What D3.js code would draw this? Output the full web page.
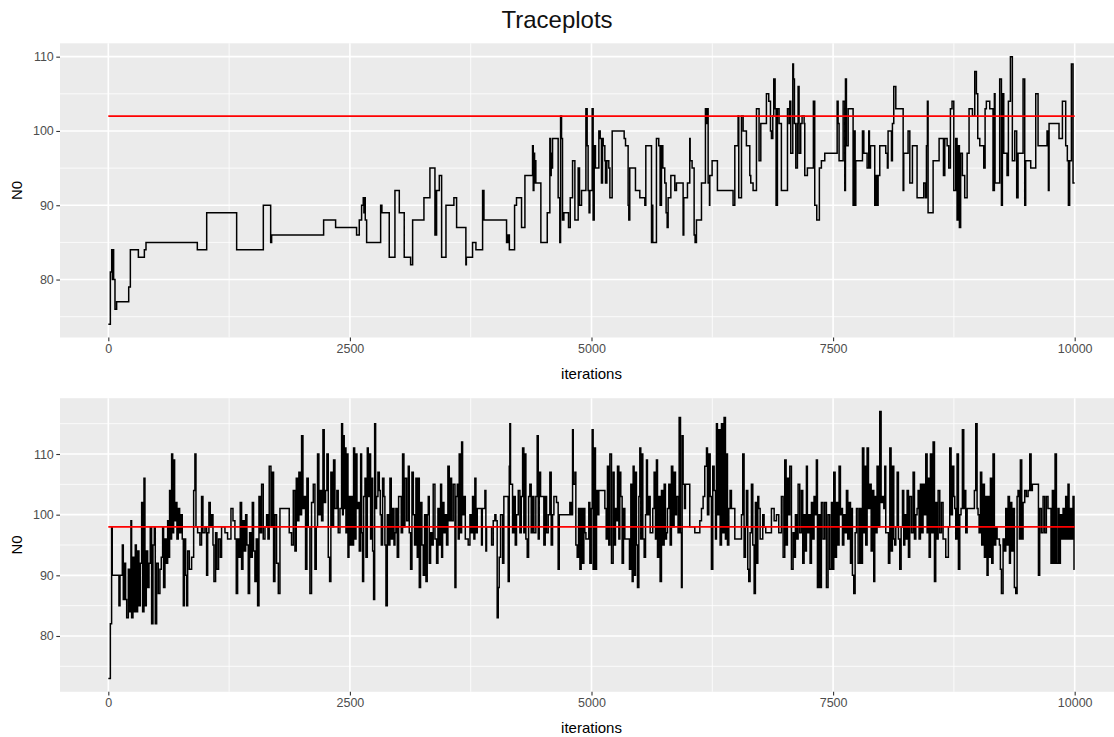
<!DOCTYPE html>
<html lang="en">
<head>
<meta charset="UTF-8">
<title>Traceplots</title>
<script src="https://d3js.org/d3.v7.min.js"></script>
<style>
  body { margin: 0; background: #fff; }
  svg { display: block; font-family: "Liberation Sans", Arial, sans-serif; }
  .grid-major { stroke: #fff; stroke-width: 1.6; }
  .grid-minor { stroke: #fff; stroke-width: 0.8; }
  .axis text { fill: #4d4d4d; font-size: 12.5px; }
  .axis line { stroke: #333; stroke-width: 1.1; }
  .axis-title { fill: #000; font-size: 15px; }
</style>
</head>
<body>
<svg id="chart" width="1114" height="737"></svg>
<script>
// axis breaks
const xTicks = [0, 2500, 5000, 7500, 10000];
const xMinor = [1250, 3750, 6250, 8750];
const yTicks = [80, 90, 100, 110];

// reference (true) values, drawn in red
const topTrue = 102;
const botTrue = 98;

// chain 1: [iteration, N0] at each change of state
const topTrace = [
  [0,74],[21,81],[35,84],[42,80],[48,84],[55,80],[69,76],[86,77],[211,79],[228,84],[311,83],[373,84],[390,85],
  [921,84],[1018,89],[1328,84],[1604,90],[1680,85],[1690,86],[2228,88],[2352,87],
  [2569,86],[2597,88],[2621,90],[2638,91],[2645,89],[2652,91],[2659,88],[2673,85],[2818,90],[2831,89],[2907,83],
  [2966,92],[3011,89],[3062,83],[3128,82],[3149,88],[3266,91],[3328,95],[3380,86],[3385,92],[3390,86],[3397,92],
  [3425,94],[3449,83],[3494,90],[3576,91],[3604,87],[3700,82],[3705,83],[3769,85],[3804,84],[3873,92],[3887,88],
  [4121,85],[4135,86],[4150,84],[4204,90],[4224,91],[4276,87],[4311,94],[4390,98],[4397,92],[4404,97],[4411,93],
  [4418,96],[4424,93],[4476,85],[4542,89],[4569,99],[4576,94],[4583,97],[4590,95],[4597,99],[4655,91],[4672,85],
  [4680,102],[4690,99],[4700,88],[4714,89],[4762,87],[4780,91],[4804,96],[4828,88],[4862,95],[4876,90],[4897,92],
  [4942,103],[4955,98],[4965,92],[4975,89],
  [4983,92],[5007,103],[5017,88],[5028,98],[5041,95],[5076,100],[5090,99],[5103,93],[5114,99],[5121,98],[5138,96],
  [5145,93],[5159,96],[5179,95],[5190,91],[5214,100],[5338,99],[5352,98],[5379,90],[5386,88],[5396,95],[5455,92],
  [5500,91],[5552,90],[5562,98],[5621,85],[5628,90],[5634,85],[5672,99],[5696,98],[5710,90],[5724,98],[5738,95],
  [5758,93],[5772,89],[5783,87],[5793,91],[5821,94],[5862,92],[5879,93],[5948,86],[5955,91],[5993,93],[6017,99],
  [6021,96],[6041,95],[6062,86],[6072,85],[6086,88],[6138,93],[6179,103],[6190,101],[6200,103],[6207,93],[6221,90],
  [6224,94],[6248,96],[6303,92],[6465,90],[6483,98],[6517,102],[6524,91],[6552,102],[6569,100],[6603,98],[6638,94],
  [6648,93],[6672,92],[6707,103],[6734,96],[6752,101],[6810,105],[6834,104],[6852,100],[6862,99],[6876,102],
  [6886,107],[6900,103],[6910,90],[6924,103],[6941,101],[6965,92],[7028,103],[7045,101],[7052,104],[7062,97],
  [7083,109],[7090,107],[7100,101],[7114,95],[7131,101],[7138,106],[7148,97],[7165,101],[7179,102],[7200,101],
  [7207,94],[7234,95],[7296,104],[7310,90],[7331,88],[7358,95],[7379,96],[7414,97],
  [7542,104],[7552,101],[7562,96],[7604,104],[7621,92],[7628,107],[7638,98],[7656,103],[7707,90],[7714,100],
  [7728,90],[7735,96],[7804,100],[7818,97],[7852,95],[7869,100],[7876,95],[7887,98],[7931,90],[7942,94],[7955,90],
  [7966,94],[7983,98],[8045,97],[8062,95],[8069,100],[8104,96],[8114,101],[8128,106],[8149,103],[8225,92],[8231,97],
  [8276,100],[8294,93],[8321,98],[8369,91],[8438,93],[8456,91],[8466,98],[8476,104],[8483,89],[8535,96],[8597,99],
  [8642,94],[8656,99],[8680,98],[8697,95],[8714,103],[8731,104],[8749,92],[8769,99],[8783,88],[8797,98],[8807,87],
  [8820,97],[8838,94],[8862,91],[8887,97],[8907,103],[8942,102],[8966,108],[8983,105],[8997,99],[9018,98],[9059,95],
  [9073,103],[9086,104],[9121,103],[9155,92],[9169,105],[9176,93],[9224,107],[9242,90],[9252,105],[9266,97],
  [9300,94],[9314,104],[9335,110],[9355,96],[9380,100],[9400,91],[9414,97],[9466,107],[9483,90],[9493,96],
  [9545,95],[9597,105],[9621,98],[9714,100],[9728,92],[9735,101],[9838,99],[9873,104],[9907,98],[9924,96],
  [9935,90],[9948,96],[9966,109],[9983,93],[10000,93]
];

// chain 2: [iteration, N0]
const botTrace = [
  [0,73],[21,82],[34,98],[41,90],[110,85],[121,90],[145,95],[155,86],[166,92],[179,86],[190,83],[207,91],[221,84],
  [234,99],[241,83],[255,93],[265,84],[279,95],[290,84],[303,94],[317,85],[331,92],[345,102],[355,84],[369,106],
  [379,85],[393,94],[407,88],[421,92],[434,98],[448,82],[462,95],[476,98],[486,82],[500,92],[517,87],[534,91],
  [548,93],[562,98],[572,88],[586,96],[600,92],[614,99],[624,93],[634,104],[645,96],[655,110],[666,97],[676,109],
  [686,99],[697,102],[710,96],[724,101],[738,97],[752,100],[765,96],[776,85],[786,96],[800,90],[810,85],[821,94],
  [838,91],[862,93],[883,104],[896,110],[907,98],[924,97],[948,95],[965,103],[979,97],[1000,98],[1017,90],[1028,97],
  [1041,102],[1055,98],[1069,100],[1083,95],[1093,89],[1110,97],[1124,91],[1141,96],[1159,93],[1172,98],[1207,97],
  [1234,96],[1269,101],[1290,99],[1310,96],[1324,87],[1338,96],[1352,93],[1365,102],[1379,91],[1393,99],[1407,94],
  [1421,100],[1434,95],[1448,87],[1462,97],[1476,93],[1490,102],[1503,94],[1517,89],[1531,96],[1545,85],[1559,103],
  [1572,97],[1586,105],[1603,96],[1621,98],[1638,100],[1652,96],[1665,108],[1683,98],[1697,107],[1710,89],
  [1724,100],[1741,92],[1759,87],[1776,101],[1872,97],[1896,95],[1914,104],[1931,94],[1945,106],[1959,99],
  [1972,107],[1986,100],[2000,113],[2014,101],[2028,103],[2041,91],[2055,106],[2069,98],[2086,87],[2103,102],
  [2121,105],[2138,91],[2152,98],[2165,110],[2179,100],[2193,104],[2207,99],[2221,114],[2234,102],[2248,104],
  [2262,110],[2276,93],[2290,89],[2303,107],[2317,98],[2331,109],[2345,101],[2365,104],[2379,97],
  [2397,101],[2414,115],[2424,100],[2431,113],[2441,101],[2449,111],[2459,97],[2469,110],[2480,93],[2490,103],
  [2500,95],[2514,103],[2528,95],[2538,111],[2549,96],[2563,110],[2573,101],[2587,102],[2597,94],[2611,110],
  [2621,97],[2631,89],[2642,103],[2656,106],[2666,93],[2680,111],[2690,103],[2704,110],[2714,96],[2725,106],
  [2735,94],[2745,86],[2756,115],[2766,101],[2776,103],[2790,107],[2804,104],[2814,100],[2825,95],[2838,106],
  [2852,103],[2862,95],[2873,85],[2887,100],[2900,95],[2914,106],[2928,96],[2942,101],[2956,95],[2966,97],
  [2976,101],[2990,93],[3004,103],[3031,97],[3045,110],[3059,98],[3069,106],[3087,99],[3104,108],[3114,97],
  [3128,91],[3142,107],[3156,100],[3169,95],[3183,106],[3197,93],[3207,106],[3218,88],[3231,102],[3245,95],
  [3259,90],[3273,100],[3287,89],[3300,100],[3311,103],[3321,92],[3335,97],[3349,95],[3362,105],[3380,96],
  [3397,92],[3411,101],[3425,95],[3438,105],[3449,93],[3459,102],[3473,97],[3487,100],[3500,95],[3514,108],
  [3528,99],[3542,106],[3552,99],[3569,105],[3587,88],[3597,103],[3611,105],[3621,96],[3631,110],[3645,97],
  [3656,112],[3666,100],[3680,103],[3694,96],[3724,95],[3742,100],[3756,97],[3769,103],[3783,96],[3793,106],
  [3804,97],[3818,101],[3862,95],[3870,101],[3897,104],[3907,94],[3914,98],[3966,95],[3983,99],[4000,100],
  [4011,99],[4024,83],[4035,88],[4045,93],[4059,100],[4080,92],[4093,103],[4138,89],[4149,108],[4155,115],
  [4162,105],[4183,97],[4197,103],[4211,95],[4224,100],[4242,104],[4259,97],[4273,103],[4287,111],[4300,97],
  [4311,110],[4321,96],[4335,93],[4349,103],[4362,105],[4376,97],[4390,103],[4404,97],[4424,103],[4438,113],
  [4449,96],[4459,107],[4473,103],[4507,95],[4521,103],[4535,97],[4552,100],[4569,107],[4583,95],[4597,100],
  [4611,103],[4638,102],[4655,91],[4666,100],[4776,102],[4790,100],[4804,114],[4811,105],[4828,107],[4838,95],
  [4852,93],[4866,101],[4880,91],[4893,101],[4907,92],[4921,101],[4931,97],[4942,96],
  [4959,96],[4972,102],[4983,92],[4997,101],[5007,114],[5017,91],[5028,111],[5041,91],[5052,104],[5062,100],
  [5076,104],[5138,101],[5152,96],[5165,108],[5179,95],[5190,110],[5207,92],[5224,107],[5234,95],[5248,101],
  [5259,99],[5269,108],[5283,96],[5293,107],[5303,103],[5317,92],[5331,101],[5345,96],[5393,91],[5407,105],
  [5421,89],[5431,108],[5441,90],[5455,107],[5465,95],[5476,88],[5490,103],[5500,111],[5510,96],[5517,110],
  [5531,96],[5545,93],[5559,100],[5569,109],[5579,100],[5593,103],[5607,97],[5634,101],[5648,107],[5662,96],
  [5672,109],[5683,93],[5696,103],[5710,89],[5724,104],[5738,95],[5752,105],[5765,96],[5776,97],[5786,101],
  [5800,105],[5814,95],[5827,108],[5841,98],[5855,107],[5869,100],[5879,103],[5896,97],[5907,116],[5921,97],
  [5931,88],[5938,113],[5948,105],[5962,101],[5972,105],[6017,98],[6069,97],[6121,99],[6138,101],[6155,103],
  [6172,108],[6190,111],[6200,100],[6214,110],[6228,103],[6241,91],[6255,108],[6269,104],[6283,96],[6293,115],
  [6303,100],[6317,114],[6331,95],[6345,115],[6359,97],[6372,116],[6386,96],[6396,110],[6407,95],[6421,101],
  [6434,104],[6448,101],[6483,96],[6552,100],[6565,110],[6579,93],[6593,98],[6603,104],[6617,91],[6627,89],
  [6641,97],[6655,105],[6669,95],[6683,87],[6696,102],[6707,92],[6721,103],[6731,101],[6745,96],[6772,100],
  [6786,98],[6803,97],[6862,101],[6890,99],[6914,100],[6938,97],[6965,103],[6983,93],[7000,109],[7014,95],
  [7027,106],[7041,100],[7052,108],[7069,91],[7086,97],[7096,93],[7110,100],[7124,96],[7138,105],[7155,97],
  [7172,104],[7186,92],[7200,100],[7214,94],[7224,108],[7234,97],[7248,100],[7262,92],[7276,102],[7290,96],
  [7303,103],[7317,100],[7327,109],[7338,88],[7352,100],[7365,88],[7379,102],[7396,96],[7414,102],[7431,88],
  [7448,100],[7465,91],
  [7483,102],[7494,91],[7507,107],[7521,93],[7535,102],[7549,95],[7562,108],[7576,100],[7587,101],[7597,95],
  [7611,100],[7625,97],[7638,104],[7652,96],[7666,102],[7680,92],[7690,101],[7700,90],[7714,87],[7728,97],
  [7742,101],[7759,92],[7776,101],[7790,92],[7804,111],[7818,97],[7828,108],[7838,95],[7852,111],[7866,101],
  [7880,105],[7894,94],[7907,104],[7921,89],[7931,103],[7942,97],[7955,108],[7969,98],[7983,117],[7997,102],
  [8011,103],[8025,101],[8035,108],[8045,97],[8073,92],[8087,111],[8100,94],[8114,108],[8128,96],[8138,95],
  [8149,98],[8163,107],[8176,96],[8190,91],[8204,98],[8218,104],[8231,95],[8242,100],[8252,96],[8266,104],
  [8280,93],[8293,103],[8311,97],[8328,107],[8342,96],[8356,100],[8369,101],[8380,104],[8390,96],[8404,105],
  [8418,97],[8431,105],[8445,100],[8459,110],[8473,97],[8483,106],[8494,93],[8507,110],[8521,97],[8535,112],
  [8549,89],[8562,102],[8576,96],[8587,104],[8604,97],[8621,102],[8638,96],[8666,93],[8693,98],[8707,111],
  [8721,100],[8735,108],[8749,103],[8759,101],[8769,96],[8783,110],[8797,91],[8811,100],[8824,101],[8838,114],
  [8852,101],[8862,104],[8873,97],[8887,101],[8962,104],[8976,115],[8990,101],[9000,100],[9011,97],[9025,107],
  [9038,95],[9052,105],[9066,93],[9080,103],[9093,90],[9104,103],[9114,93],[9128,106],[9142,92],[9155,110],
  [9169,95],[9183,98],[9197,96],[9221,95],[9231,91],[9242,87],[9259,96],[9273,94],[9287,101],[9300,95],
  [9311,103],[9325,92],[9335,102],[9349,94],[9362,101],[9376,88],[9390,87],[9404,103],[9414,104],[9428,96],
  [9438,109],[9452,96],[9466,102],[9483,104],[9500,103],[9518,104],[9535,110],[9549,104],[9562,105],[9625,90],
  [9638,101],[9655,97],[9673,103],[9690,97],[9707,103],[9724,101],[9755,92],[9769,104],[9783,92],[9797,110],
  [9811,92],[9828,101],[9838,92],[9852,100],[9866,96],[9880,101],[9894,96],[9907,103],[9921,96],[9931,105],
  [9942,96],[9955,101],[9969,96],[9983,103],[9993,91],[10000,91]
];

const svg = d3.select("#chart");
const width = +svg.attr("width");

const x = d3.scaleLinear().domain([-500, 10500]).range([60, 1123]);

const panels = [
  { id: "top", trace: topTrace, truth: topTrue, minor: [75, 85, 95, 105],
    y: d3.scaleLinear().domain([72.2, 111.8]).range([337.5, 43.3]) },
  { id: "bot", trace: botTrace, truth: botTrue, minor: [75, 85, 95, 105, 115],
    y: d3.scaleLinear().domain([70.8, 119.2]).range([691.8, 398.2]) }
];

svg.append("text")
  .attr("x", width / 2)
  .attr("y", 28)
  .attr("text-anchor", "middle")
  .attr("font-size", 24)
  .attr("fill", "#111")
  .text("Traceplots");

panels.forEach((p) => {
  const [bottom, top] = p.y.range();
  const left = x.range()[0];
  const g = svg.append("g");

  g.append("clipPath").attr("id", "clip-" + p.id)
    .append("rect")
    .attr("x", left).attr("y", top)
    .attr("width", width - left).attr("height", bottom - top);

  g.append("rect")
    .attr("x", left).attr("y", top)
    .attr("width", width - left).attr("height", bottom - top)
    .attr("fill", "#ebebeb");

  // grid
  g.selectAll(".ymin").data(p.minor).enter().append("line")
    .attr("class", "grid-minor")
    .attr("x1", left).attr("x2", width)
    .attr("y1", (d) => p.y(d)).attr("y2", (d) => p.y(d));
  g.selectAll(".xmin").data(xMinor).enter().append("line")
    .attr("class", "grid-minor")
    .attr("x1", (d) => x(d)).attr("x2", (d) => x(d))
    .attr("y1", top).attr("y2", bottom);
  g.selectAll(".ymaj").data(yTicks).enter().append("line")
    .attr("class", "grid-major")
    .attr("x1", left).attr("x2", width)
    .attr("y1", (d) => p.y(d)).attr("y2", (d) => p.y(d));
  g.selectAll(".xmaj").data(xTicks).enter().append("line")
    .attr("class", "grid-major")
    .attr("x1", (d) => x(d)).attr("x2", (d) => x(d))
    .attr("y1", top).attr("y2", bottom);

  const plot = g.append("g").attr("clip-path", "url(#clip-" + p.id + ")");

  const line = d3.line()
    .x((d) => x(d[0]))
    .y((d) => p.y(d[1]))
    .curve(d3.curveStepAfter);

  plot.append("path")
    .datum(p.trace)
    .attr("d", line)
    .attr("fill", "none")
    .attr("stroke", "#000")
    .attr("stroke-width", 1.5);

  plot.append("path")
    .datum([[0, p.truth], [10000, p.truth]])
    .attr("d", d3.line().x((d) => x(d[0])).y((d) => p.y(d[1])))
    .attr("fill", "none")
    .attr("stroke", "#ff0000")
    .attr("stroke-width", 1.8);

  // axes
  const ax = g.append("g").attr("class", "axis")
    .attr("transform", `translate(0,${bottom})`)
    .call(d3.axisBottom(x).tickValues(xTicks).tickFormat(d3.format("d"))
      .tickSize(3.7).tickPadding(2.5));
  ax.select(".domain").remove();

  const ay = g.append("g").attr("class", "axis")
    .attr("transform", `translate(${left},0)`)
    .call(d3.axisLeft(p.y).tickValues(yTicks).tickFormat(d3.format("d"))
      .tickSize(3.7).tickPadding(2.5));
  ay.select(".domain").remove();

  g.append("text")
    .attr("class", "axis-title")
    .attr("x", (x(0) + x(10000)) / 2)
    .attr("y", bottom + 41)
    .attr("text-anchor", "middle")
    .text("iterations");

  g.append("text")
    .attr("class", "axis-title")
    .attr("transform", `translate(22,${(top + bottom) / 2}) rotate(-90)`)
    .attr("text-anchor", "middle")
    .text("N0");
});
</script>
</body>
</html>
